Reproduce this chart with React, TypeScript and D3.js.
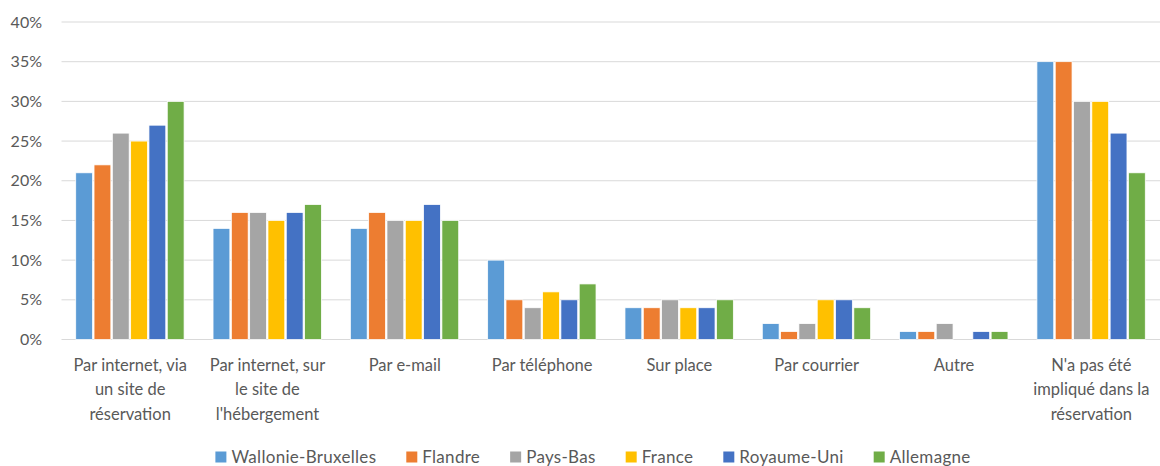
import React, { useEffect, useRef } from "react";
import * as d3 from "d3";

const categories = [
  "Par internet, via\nun site de\nréservation",
  "Par internet, sur\nle site de\nl'hébergement",
  "Par e-mail",
  "Par téléphone",
  "Sur place",
  "Par courrier",
  "Autre",
  "N'a pas été\nimpliqué dans la\nréservation",
];
const seriesNames = ["Wallonie-Bruxelles", "Flandre", "Pays-Bas", "France", "Royaume-Uni", "Allemagne"];
const seriesColors = ["#5B9BD5", "#ED7D31", "#A5A5A5", "#FFC000", "#4472C4", "#70AD47"];
const wallonie = [21, 14, 14, 10, 4, 2, 1, 35];
const flandre = [22, 16, 16, 5, 4, 1, 1, 35];
const paysBas = [26, 16, 15, 4, 5, 2, 2, 30];
const france = [25, 15, 15, 6, 4, 5, 0, 30];
const royaumeUni = [27, 16, 17, 5, 4, 5, 1, 26];
const allemagne = [30, 17, 15, 7, 5, 4, 1, 21];
const yTicks = [0, 5, 10, 15, 20, 25, 30, 35, 40];

const seriesValues = [wallonie, flandre, paysBas, france, royaumeUni, allemagne];

const W = 1160, H = 466;
const left = 61.5, right = 1160, top = 22, bottom = 339.5;
const FONT = "Lato, Open Sans, sans-serif";
const TXT = "#595959";

export default function App() {
  const legendRef = useRef<SVGGElement>(null);
  const x0 = d3.scaleBand<number>().domain(categories.map((_, i) => i)).range([left, right]).paddingInner(0.2).paddingOuter(0.1);
  const x1 = d3.scaleBand<number>().domain(seriesNames.map((_, i) => i)).range([0, x0.bandwidth()]);
  const y = d3.scaleLinear().domain([0, 40]).range([bottom, top]);

  useEffect(() => {
    const g = d3.select(legendRef.current);
    g.selectAll("*").remove();
    const items = g.selectAll("g").data(seriesNames).enter().append("g");
    items.append("rect").attr("width", 11).attr("height", 11).attr("y", -5.5).attr("fill", (_, i) => seriesColors[i]);
    items.append("text").text((d) => d).attr("x", 16).attr("dy", "0.35em")
      .style("font-family", FONT).style("font-size", "17px").style("letter-spacing", "0.3px").attr("fill", TXT);
    const widths: number[] = [];
    items.each(function () {
      widths.push((d3.select(this).select("text").node() as SVGTextElement).getComputedTextLength() + 16);
    });
    const gap = 30;
    const total = d3.sum(widths) + gap * (widths.length - 1);
    let cx = 593 - total / 2;
    items.attr("transform", (_, i) => {
      const t = `translate(${cx},${457})`;
      cx += widths[i] + gap;
      return t;
    });
  }, []);

  return (
    <svg width={W} height={H} style={{ position: "absolute", left: 0, top: 0, background: "#fff" }}>
      {yTicks.map((t) => (
        <g key={t}>
          <line x1={left} x2={right} y1={y(t)} y2={y(t)} stroke="#d9d9d9" strokeWidth={1} />
          <text x={42} y={y(t)} dy="0.35em" textAnchor="end" fontFamily={FONT} fontSize={16} fill={TXT}>{t}%</text>
        </g>
      ))}
      {categories.map((c, ci) => (
        <g key={ci} transform={`translate(${x0(ci)},0)`}>
          {seriesValues.map((vals, si) => (
            <rect key={si} x={(x1(si) as number) + 0.5} width={x1.bandwidth() - 1.5}
              y={y(vals[ci])} height={y(0) - y(vals[ci])} fill={seriesColors[si]} stroke="#fff" strokeWidth={0.75} />
          ))}
        </g>
      ))}
      {categories.map((c, ci) => {
        const cx = (x0(ci) as number) + x0.bandwidth() / 2;
        return (
          <text key={ci} textAnchor="middle" fontFamily={FONT} fontSize={16.5} fill={TXT}>
            {c.split("\n").map((line, li) => (
              <tspan key={li} x={cx} y={365 + li * 24.5} dy="0.35em">{line}</tspan>
            ))}
          </text>
        );
      })}
      <g ref={legendRef} />
    </svg>
  );
}
